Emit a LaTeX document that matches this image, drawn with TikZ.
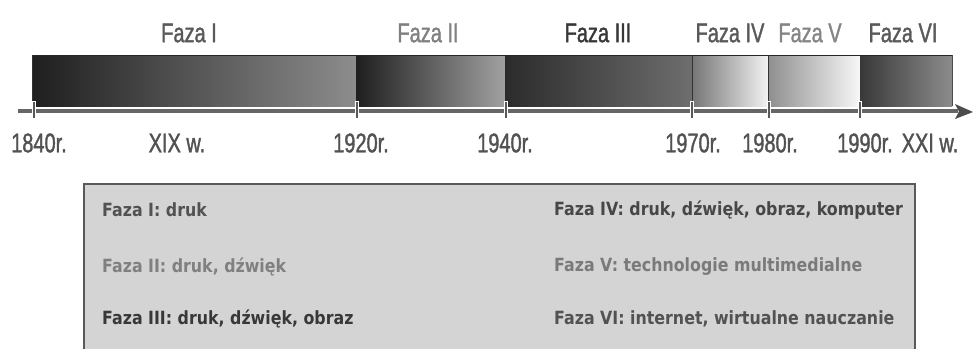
\documentclass[tikz,border=0pt]{standalone}
\usepackage{fontspec}
\newfontfamily\narrowfont[FakeStretch=0.74,FakeBold=1.3]{Liberation Sans}
\newfontfamily\legfont[FakeStretch=0.87]{DejaVu Sans}
\begin{document}
\begin{tikzpicture}[x=1pt,y=-1pt,
  toplab/.style={font=\narrowfont\fontsize{27}{30}\selectfont, inner sep=0pt, anchor=center},
  yearlab/.style={font=\narrowfont\fontsize{27}{30}\selectfont, text=black!68, inner sep=0pt, anchor=center},
  leglab/.style={font=\legfont\bfseries\fontsize{18.2}{20}\selectfont, inner sep=0pt, anchor=west},
  tickmark/.style={line width=2pt, draw=black!65}]
\useasboundingbox (0,0) rectangle (973,348);
\clip (0,0) rectangle (973,348);
% bar segments
\shade[left color=black!88, right color=black!45] (32,55) rectangle (356,106);
\shade[left color=black!88, right color=black!37] (356,55) rectangle (505,106);
\shade[left color=black!83, right color=black!57] (505,55) rectangle (692,106);
\shade[left color=black!54, right color=black!5] (692,55) rectangle (768,106);
\shade[left color=black!44, right color=black!3] (768,55) rectangle (860,106);
\shade[left color=black!78, right color=black!45] (860,55) rectangle (952,106);
\draw[black!85, line width=1pt] (32,55) -- (952,55);
\draw[black!80, line width=0.8pt] (32,55) -- (32,106);
\draw[black!70, line width=0.8pt] (952,55) -- (952,106);
\draw[black!80, line width=0.8pt] (692,55) -- (692,106);
\draw[black!80, line width=0.8pt] (768,55) -- (768,106);
% axis
\coordinate (axs) at (18,111);
\coordinate (axe) at (973,112);
\draw[white, line width=2pt] (22,107.5) -- (958,107.5);
\draw[black!60, line width=3.5pt] (axs) -- (958,111);
\fill[black!70] (axe) -- (955,104) -- (959,111.5) -- (955,119) -- cycle;
% ticks
\foreach \x in {34,357,506,692,769,860}{
  \draw[white, line width=4pt] (\x,101) -- (\x,119);
  \draw[tickmark] (\x,102) -- (\x,118);
}
% top labels
\node[toplab, text=black!65] (f1) at (189,33) {Faza I};
\node[toplab, text=black!50] (f2) at (428,33) {Faza II};
\node[toplab, text=black!78] (f3) at (598,33) {Faza III};
\node[toplab, text=black!65] (f4) at (730,33) {Faza IV};
\node[toplab, text=black!48] (f5) at (810,33) {Faza V};
\node[toplab, text=black!65] (f6) at (903,33) {Faza VI};
% year labels
\node[yearlab] (y1840) at (39,143) {1840r.};
\node[yearlab] (yxix) at (177,143) {XIX w.};
\node[yearlab] (y1920) at (361,143) {1920r.};
\node[yearlab] (y1940) at (505,143) {1940r.};
\node[yearlab] (y1970) at (693,143) {1970r.};
\node[yearlab] (y1980) at (770,143) {1980r.};
\node[yearlab] (y1990) at (865,143) {1990r.};
\node[yearlab] (yxxi) at (930,143) {XXI w.};
% legend box
\draw[fill=black!17, draw=black!65, line width=1.5pt] (84,184) rectangle (915,360);
\node[leglab, text=black!68] (l1) at (102,210) {Faza I: druk};
\node[leglab, text=black!50] (l2) at (102,267) {Faza II: druk, dźwięk};
\node[leglab, text=black!78] (l3) at (102,319) {Faza III: druk, dźwięk, obraz};
\node[leglab, text=black!72] (l4) at (554,210) {Faza IV: druk, dźwięk, obraz, komputer};
\node[leglab, text=black!52] (l5) at (554,267) {Faza V: technologie multimedialne};
\node[leglab, text=black!68] (l6) at (554,319) {Faza VI: internet, wirtualne nauczanie};
\end{tikzpicture}
\end{document}
